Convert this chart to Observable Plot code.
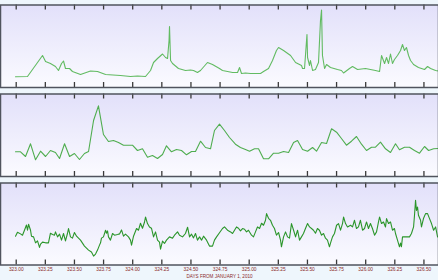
<!DOCTYPE html>
<html>
<head>
<meta charset="utf-8">
<script src="https://cdn.jsdelivr.net/npm/d3@7"></script>
<script src="https://cdn.jsdelivr.net/npm/@observablehq/plot@0.6"></script>
<style>
  html, body { margin: 0; padding: 0; background: #eef6fc; }
  #chart { width: 438px; height: 280px; position: relative; }
  #chart svg { display: block; background: transparent; }
</style>
</head>
<body>
<div id="chart"></div>
<script>
// Tick values (days from January 1, 2010)
const tickDays = [323, 323.25, 323.5, 323.75, 324, 324.25, 324.5, 324.75, 325, 325.25, 325.5, 325.75, 326, 326.25, 326.5];
const xTitle = "DAYS FROM JANUARY 1, 2010";

// Panel 1 series
const p1Day = [322.994,323.097,323.226,323.252,323.294,323.337,323.363,323.389,323.406,323.423,323.458,323.483,323.552,323.638,323.698,323.767,323.895,323.981,324.041,324.110,324.153,324.179,324.213,324.256,324.282,324.299,324.312,324.316,324.325,324.342,324.393,324.453,324.496,324.522,324.556,324.582,324.642,324.685,324.745,324.771,324.814,324.857,324.900,324.917,324.934,324.968,325.011,325.097,325.123,325.166,325.200,325.234,325.252,325.295,325.355,325.398,325.432,325.449,325.458,325.475,325.496,325.501,325.518,325.526,325.544,325.569,325.595,325.612,325.621,325.629,325.647,325.664,325.698,325.758,325.792,325.810,325.861,325.887,325.930,325.998,326.084,326.119,326.136,326.162,326.179,326.196,326.213,326.230,326.247,326.273,326.299,326.316,326.333,326.350,326.368,326.385,326.411,326.453,326.505,326.531,326.557,326.600,326.625];
const p1Val = [10.7,11,32,26,24,21,17,24,26.5,19,19,16,13,16.5,16,13,12,11,11.5,11,17,25,29,33.5,30,29,47,61,27,24,19,17,17.5,17,15,17,25,23,19,17,16,15,15,20,14,14.5,14,14,16,19,27,37,40,37,32,25,23,22,19,19,53,30,22,27,17,18,25,67,77.5,32,19,23,20,18,17,14.5,19,21,18,19,17,16,32,24,30,24,33.5,24,28,32,37,43,37,40,32,27,23,20,18,21,19,17,16.5];

// Panel 2 series
const p2Day = [322.994,323.037,323.080,323.123,323.166,323.209,323.252,323.294,323.337,323.372,323.415,323.458,323.500,323.543,323.586,323.621,323.664,323.706,323.749,323.792,323.835,323.878,323.921,323.998,324.041,324.084,324.127,324.170,324.213,324.256,324.290,324.333,324.376,324.419,324.462,324.505,324.539,324.582,324.625,324.668,324.702,324.745,324.788,324.831,324.882,324.925,324.968,325.003,325.046,325.080,325.123,325.166,325.209,325.252,325.295,325.338,325.381,325.415,325.458,325.501,325.544,325.578,325.621,325.664,325.707,325.750,325.792,325.835,325.878,325.921,325.964,326.007,326.050,326.084,326.127,326.170,326.213,326.256,326.290,326.333,326.376,326.419,326.462,326.505,326.540,326.583,326.625];
const p2Val = [24.7,24.7,20,32.7,16.7,25.3,20,26,24,18,32.7,20,23,17,23,25,56,70.7,42,35,36,34,31.3,31.3,26,27.7,19.3,21,18,22,30.7,24.7,27,26,21.7,25,25,35.3,29,27.7,46,52.3,46,39,32.3,29,27,25.3,27.7,27.7,17.7,17.7,23.3,23.3,25,24,34,36,27,25.3,29,25.3,34,33,47.7,44.3,38,31.3,35.3,40,32.3,26,29.3,29.3,34.3,27.7,24,32.7,26.7,29.3,29.3,26,23.3,30,26,27.7,28];

// Panel 3 series
const p3Day = [322.994,323.011,323.037,323.054,323.071,323.088,323.097,323.106,323.123,323.131,323.149,323.166,323.183,323.200,323.209,323.226,323.252,323.277,323.294,323.312,323.329,323.337,323.355,323.372,323.389,323.406,323.423,323.440,323.449,323.466,323.483,323.500,323.518,323.552,323.586,323.621,323.646,323.664,323.681,323.698,323.715,323.724,323.732,323.749,323.767,323.775,323.784,323.792,323.809,323.827,323.844,323.870,323.887,323.904,323.921,323.938,323.964,323.981,323.990,324.007,324.033,324.050,324.067,324.084,324.101,324.110,324.127,324.144,324.161,324.179,324.196,324.213,324.230,324.239,324.256,324.273,324.290,324.316,324.342,324.359,324.385,324.402,324.428,324.453,324.471,324.488,324.505,324.522,324.539,324.556,324.574,324.591,324.608,324.634,324.659,324.685,324.702,324.720,324.745,324.771,324.788,324.814,324.840,324.857,324.874,324.891,324.908,324.925,324.943,324.960,324.977,324.994,325.020,325.037,325.054,325.071,325.089,325.106,325.123,325.140,325.149,325.166,325.183,325.200,325.217,325.234,325.252,325.269,325.277,325.295,325.312,325.329,325.346,325.363,325.381,325.398,325.415,325.432,325.449,325.466,325.483,325.501,325.518,325.535,325.552,325.569,325.586,325.603,325.621,325.638,325.655,325.672,325.689,325.698,325.715,325.732,325.750,325.767,325.784,325.801,325.810,325.827,325.844,325.870,325.887,325.904,325.921,325.938,325.955,325.973,325.990,326.007,326.024,326.041,326.058,326.076,326.093,326.110,326.119,326.136,326.153,326.170,326.179,326.196,326.213,326.230,326.247,326.256,326.273,326.290,326.299,326.307,326.316,326.333,326.359,326.376,326.393,326.411,326.419,326.428,326.436,326.445,326.453,326.471,326.479,326.496,326.514,326.531,326.548,326.565,326.583,326.600,326.617,326.625];
const p3Val = [29,33,31.3,30,35,40.3,35,41,35,29,28.3,22.3,24.3,17.7,21,23,22.3,22.3,32,30.7,30,33.3,28.3,31,25,31.7,24.3,31.7,36.7,28.3,27,32.7,29,25,19,15,13,9,11,15,20,22.3,27,28.3,35,32,34.3,28.3,25,31.7,30,30.7,31.3,35.3,29,31,28.3,25,20,29,36.7,35,42,37,43,48.3,41.7,38.3,37,28.3,33.3,25,23,16,24,21.7,25,28.3,27,30,33.3,30,28.3,31.7,38,28.3,31,27.3,31.7,25,28.3,25,29,25,19,19,25,28.3,32.5,36.7,38.3,35,33.3,31.7,35,38.3,37,34.3,36.7,36,33.3,35,30,28.3,33.3,38.3,36.7,42,40,45,51.7,47,45,40,36.7,30,32.7,25,18.3,28.3,33.3,28.3,27,41.7,35,28.3,35,25,28.3,31.7,36.7,41.7,38.3,36.7,35,32,36.7,35,30,31.7,27,25,18.3,22,28.3,31.7,40,41.7,35,41.7,48.3,41.7,38.3,40,38.3,45,36.7,38.3,45,35,36.7,43.3,36.7,41.7,36.7,30,33.3,43.3,48.3,41.7,43.3,38.3,46.7,41.7,43.3,35,36.7,31.7,25,18.3,22,18.3,28.3,28.3,28.3,28.3,31.7,38.3,50,65,55,58.3,50,45,38.3,46.7,51.7,51.7,46.7,41.7,35,38.3,28.3,28];

const toRows = (days, vals) => days.map((d, i) => ({day: d, value: vals[i]}));
const xDomain = [322.8652, 326.625];
const yDomain = [0, 82.5];
const fmt = d3.format(".2f");

const panels = [
  {rows: toRows(p1Day, p1Val), color: "#62bb62", height: 90, mt: 4.5, mb: 3, labels: false},
  {rows: toRows(p2Day, p2Val), color: "#4fad4f", height: 89, mt: 3.5, mb: 3, labels: false},
  {rows: toRows(p3Day, p3Val), color: "#2a952a", height: 101, mt: 3.5, mb: 15.5, labels: true}
];

const chart = document.getElementById("chart");
panels.forEach((p, i) => {
  const gid = "bg" + i;
  const tickLen = 5;  // in y-scale units (one unit per pixel here)
  const marks = [
    Plot.frame({fill: `url(#${gid})`, stroke: null}),
    Plot.line(p.rows, {x: "day", y: "value", stroke: p.color, strokeWidth: 1.1}),
    // inward tick marks along top and bottom edges
    Plot.ruleX(tickDays, {x: d => d, y1: () => yDomain[1] - tickLen, y2: () => yDomain[1], stroke: "#3a3a3a", strokeWidth: 1.3}),
    Plot.ruleX(tickDays, {x: d => d, y1: () => yDomain[0], y2: () => yDomain[0] + tickLen, stroke: "#3a3a3a", strokeWidth: 1.3}),
    Plot.frame({stroke: "#50545e", strokeWidth: 1.5})
  ];
  if (p.labels) {
    marks.push(Plot.axisX(tickDays, {anchor: "bottom", tickSize: 0, tickPadding: 3, tickFormat: fmt, label: null, fill: "#8b2a2a", fontSize: 4.8}));
    marks.push(Plot.text([xTitle], {frameAnchor: "bottom", dy: 12.5, text: d => d, fill: "#8b2a2a", fontSize: 4.6}));
  }
  const svg = Plot.plot({
    width: 438, height: p.height,
    marginLeft: 0, marginRight: 0, marginTop: p.mt, marginBottom: p.mb,
    style: {fontFamily: "Liberation Sans, Arial, sans-serif", background: "transparent", overflow: "visible"},
    x: {domain: xDomain, axis: null, label: null},
    y: {domain: yDomain, axis: null, label: null},
    marks
  });
  svg.insertAdjacentHTML("afterbegin",
    `<defs><linearGradient id="${gid}" x1="0" y1="0" x2="0" y2="1">
       <stop offset="0" stop-color="#e2e0fa"/>
       <stop offset="1" stop-color="#fbfbff"/>
     </linearGradient></defs>`);
  chart.appendChild(svg);
});
</script>
</body>
</html>
